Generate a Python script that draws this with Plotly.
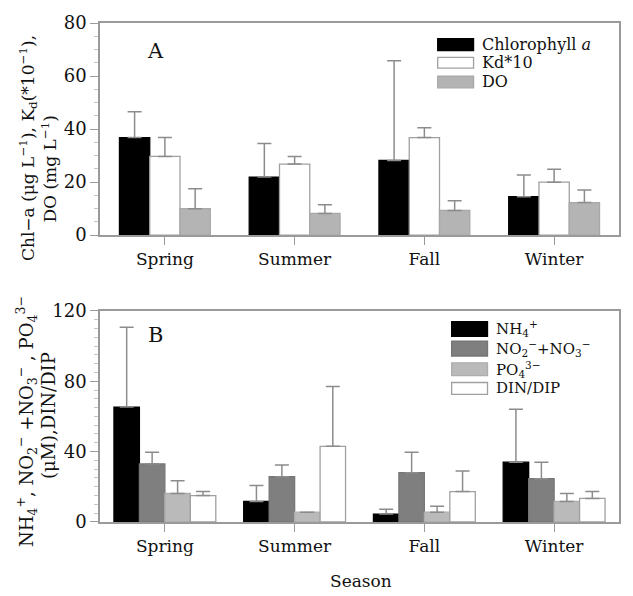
import plotly.graph_objects as go

# ---- data -------------------------------------------------------------
seasons = ["Spring", "Summer", "Fall", "Winter"]

# Panel A
chl_a = [36.8, 21.9, 28.2, 14.5]
chl_a_err = [9.7, 12.7, 37.6, 8.2]
kd10 = [29.7, 26.8, 36.8, 20.0]
kd10_err = [7.1, 2.9, 3.7, 4.9]
do_vals = [10.0, 8.2, 9.3, 12.3]
do_err = [7.5, 3.3, 3.7, 4.7]

# Panel B
nh4 = [65.3, 11.7, 4.5, 34.0]
nh4_err = [45.3, 9.0, 2.8, 30.0]
nox = [33.0, 25.7, 28.0, 24.6]
nox_err = [6.7, 6.7, 11.7, 9.4]
po4 = [16.2, 5.6, 5.6, 11.7]
po4_err = [7.3, 0.0, 3.3, 4.5]
din_dip = [15.0, 43.0, 17.3, 13.4]
din_dip_err = [2.3, 34.0, 11.7, 3.9]

# ---- styling ----------------------------------------------------------
W, H = 633, 596
ML, MR, MT, MB = 100, 12, 14, 74
PW, PH = W - ML - MR, H - MT - MB
FONT = "DejaVu Serif"
AXC = "#9a9a9a"
ERRC = "#8c8c8c"


def px_x(p):
    return (p - ML) / PW


def px_y(p):
    return (H - MB - p) / PH


series_a = [
    ("Chlorophyll <i>a</i>", chl_a, chl_a_err, "#000000", "#000000"),
    ("Kd*10", kd10, kd10_err, "#ffffff", "#a0a0a0"),
    ("DO", do_vals, do_err, "#b4b4b4", "#a8a8a8"),
]
series_b = [
    ("NH<sub>4</sub><sup>+</sup>", nh4, nh4_err, "#000000", "#000000"),
    ("NO<sub>2</sub><sup>−</sup>+NO<sub>3</sub><sup>−</sup>", nox, nox_err, "#7f7f7f", "#767676"),
    ("PO<sub>4</sub><sup>3−</sup>", po4, po4_err, "#bababa", "#adadad"),
    ("DIN/DIP", din_dip, din_dip_err, "#ffffff", "#a0a0a0"),
]

fig = go.Figure()


def add_group(series, group_frac, xa, ya):
    n = len(series)
    w = group_frac / n
    for i, (name, vals, errs, fill, line) in enumerate(series):
        fig.add_trace(go.Bar(
            x=seasons, y=vals, name=name,
            width=w, offset=-group_frac / 2 + i * w,
            marker=dict(color=fill, line=dict(color=line, width=1.3)),
            error_y=dict(type="data", array=errs, arrayminus=[0] * len(errs),
                         symmetric=False, color=ERRC, thickness=1.5, width=7),
            xaxis=xa, yaxis=ya, showlegend=False,
        ))


add_group(series_a, 0.70, "x", "y")
add_group(series_b, 0.785, "x2", "y2")

dom_a = [px_y(230), 1.0]
dom_b = [0.0, px_y(307)]

xcommon = dict(
    type="category", range=[-0.5, 3.5], showline=True, linecolor=AXC, linewidth=1.5,
    mirror=True, ticks="outside", ticklen=8, tickcolor=AXC, tickwidth=1,
    showgrid=False, zeroline=False,
    tickfont=dict(family=FONT, size=17, color="#111111"),
)
ycommon = dict(
    showline=True, linecolor=AXC, linewidth=1.5, mirror=True,
    ticks="outside", ticklen=8, tickcolor=AXC, tickwidth=1,
    showgrid=False, zeroline=False,
    tickfont=dict(family=FONT, size=18, color="#111111"),
    minor=dict(ticks="outside", ticklen=4, tickcolor="#c8c8c8"),
)

fig.update_layout(
    width=W, height=H,
    margin=dict(l=ML, r=MR, t=MT, b=MB),
    paper_bgcolor="white", plot_bgcolor="white",
    barmode="overlay",
    showlegend=False,
    xaxis=dict(**xcommon, anchor="y", domain=[0, 1]),
    yaxis=dict(**ycommon, anchor="x", domain=dom_a, range=[0, 80],
               tickvals=[0, 20, 40, 60, 80]),
    xaxis2=dict(**xcommon, anchor="y2", domain=[0, 1]),
    yaxis2=dict(**ycommon, anchor="x2", domain=dom_b, range=[0, 120],
                tickvals=[0, 40, 80, 120]),
)

ann = []
shapes = []


def label(text, x, y, size, angle=0, xanchor="center"):
    ann.append(dict(text=text, x=px_x(x), y=px_y(y), xref="paper", yref="paper",
                    xanchor=xanchor, yanchor="middle", textangle=angle,
                    showarrow=False, font=dict(family=FONT, size=size, color="#111111")))


# Panel letters
label("A", 156, 43, 21)
label("B", 156, 332, 21)

# Y-axis titles (two lines each)
label("Chl−a (μg L<sup>−1</sup>), K<sub>d</sub>(*10<sup>−1</sup>),", 28, 141, 17, -90)
label("DO (mg L<sup>−1</sup>)", 49, 163, 17, -90)
label("NH<sub>4</sub><sup>+</sup>, NO<sub>2</sub><sup>−</sup> +NO<sub>3</sub><sup>−</sup> , PO<sub>4</sub><sup>3−</sup>",
      26, 420, 18, -90)
label("(μM),DIN/DIP", 49, 414, 18, -90)

# X-axis title
label("Season", 362, 582, 17)


def legend(series, x0, x1, rows, tx, size):
    for (name, _, _, fill, line), (y0, y1) in zip(series, rows):
        shapes.append(dict(type="rect", xref="paper", yref="paper",
                           x0=px_x(x0), x1=px_x(x1), y0=px_y(y1), y1=px_y(y0),
                           fillcolor=fill, line=dict(color=line, width=1.3)))
        label(name, tx, (y0 + y1) / 2, size, xanchor="left")


legend(series_a, 439, 475, [(30, 42), (49, 60), (68, 80)], 481, 16)
legend(series_b, 453, 489, [(318, 333), (338, 353), (360, 373), (380, 392)], 496, 15)

fig.update_layout(annotations=ann, shapes=shapes)

fig.write_html("out.html")
